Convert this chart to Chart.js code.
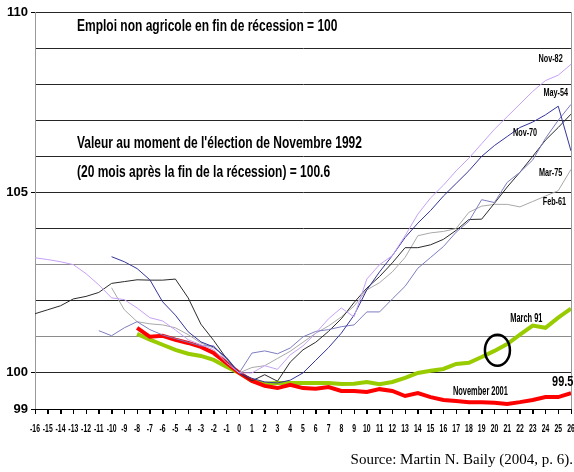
<!DOCTYPE html>
<html>
<head>
<meta charset="utf-8">
<script src="https://cdn.jsdelivr.net/npm/chart.js@4.4.1/dist/chart.umd.min.js"></script>
<style>
html,body{margin:0;padding:0;background:#fff;}
#wrap{width:574px;height:472px;}
</style>
</head>
<body>
<div id="wrap"><canvas id="c" width="574" height="472"></canvas></div>
<script>
// ---- data (months relative to end of recession, index = 100 at month 0) ----
const xTicks = [-16,-15,-14,-13,-12,-11,-10,-9,-8,-7,-6,-5,-4,-3,-2,-1,0,1,2,3,4,5,6,7,8,9,10,11,12,13,14,15,16,17,18,19,20,21,22,23,24,25,26];
const yTickLabels = [99, 100, 105, 110];

const nov82Start = -16;
const nov82 = [103.19,103.14,103.08,103.0,102.75,102.44,102.08,102.03,101.8,101.53,101.44,101.19,100.92,100.78,100.64,100.28,100.0,
  100.0,100.2,100.1,100.5,100.75,101.1,101.5,101.8,101.55,102.6,103.0,103.25,103.8,104.4,104.85,105.2,105.6,105.95,106.35,106.75,107.1,107.45,107.8,108.1,108.25,108.55];

const may54Start = -10;
const may54 = [103.22,103.08,102.89,102.58,101.97,101.6,101.14,100.86,100.72,100.42,100.0,
  99.85,99.75,99.72,99.8,100.0,100.35,100.7,101.1,101.6,102.3,102.8,103.25,103.75,104.15,104.5,104.9,105.25,105.6,106.0,106.3,106.55,106.8,106.95,107.15,107.39,106.15];

const nov70Start = -11;
const nov70 = [101.17,101.03,101.25,101.42,101.2,101.05,100.95,100.85,100.75,100.75,100.35,100.0,
  100.55,100.61,100.53,100.69,101.0,101.15,101.2,101.28,101.33,101.69,101.69,102.05,102.4,102.9,103.2,103.5,103.9,104.2,104.8,104.72,105.28,105.56,105.9,106.5,107.0,107.44];

const mar75Start = -16;
const mar75 = [101.64,101.75,101.86,102.05,102.12,102.23,102.48,102.53,102.58,102.57,102.57,102.6,102.08,101.35,100.9,100.4,100.0,
  99.78,99.95,99.77,100.3,100.64,100.85,101.15,101.5,101.95,102.35,102.67,103.05,103.47,103.47,103.55,103.7,103.95,104.25,104.26,104.7,105.15,105.56,106.0,106.45,106.8,107.17];

const feb61Start = -10;
const feb61 = [102.36,101.75,101.42,101.36,101.33,101.25,101.06,100.83,100.69,100.44,100.0,
  100.15,100.2,100.4,100.6,100.85,101.1,101.3,101.55,101.85,102.3,102.5,102.8,103.2,103.8,103.88,103.92,104.0,104.45,104.62,104.67,104.67,104.6,104.75,104.9,105.05,105.64];

const nov01Start = -8;
const nov01 = [101.25,101.0,101.03,100.92,100.83,100.72,100.55,100.28,100.0,
  99.78,99.64,99.58,99.67,99.58,99.56,99.61,99.5,99.5,99.47,99.55,99.5,99.36,99.44,99.33,99.25,99.22,99.19,99.19,99.17,99.14,99.19,99.25,99.33,99.33,99.44];

const mar91Start = -8;
const mar91 = [101.08,100.92,100.78,100.64,100.53,100.47,100.36,100.17,100.0,
  99.78,99.7,99.72,99.72,99.72,99.72,99.72,99.69,99.7,99.75,99.69,99.75,99.86,100.0,100.06,100.11,100.25,100.28,100.44,100.61,100.8,101.06,101.31,101.25,101.53,101.78];

const electionMonth = 20;
const electionValue = 100.6;

function pts(start, arr){ return arr.map((v,i)=>({x:start+i, y:v})); }

const SANS = "'Liberation Sans',Arial,sans-serif";

const thin = (label, start, arr, color) => ({label, data: pts(start, arr), borderColor: color, borderWidth: 1, pointRadius: 0, tension: 0, fill:false});

const datasets = [
  thin('Nov-82', nov82Start, nov82, '#c6a0f6'),
  thin('May-54', may54Start, may54, '#34349c'),
  thin('Nov-70', nov70Start, nov70, '#7c7cc0'),
  thin('Mar-75', mar75Start, mar75, '#2a2a2a'),
  thin('Feb-61', feb61Start, feb61, '#a8a8a8'),
  {label:'November 2001', data: pts(nov01Start, nov01), borderColor:'#ff0000', borderWidth:4, pointRadius:0, tension:0, fill:false},
  {label:'March 91', data: pts(mar91Start, mar91), borderColor:'#99cc00', borderWidth:4, pointRadius:0, tension:0, fill:false}
];

// draw horizontally condensed text (narrow font look)
function ctext(ctx, t, x, y, font, sx, align){
  ctx.save();
  ctx.font = font; ctx.textAlign = align || 'center'; ctx.textBaseline = 'middle';
  ctx.translate(x, y); ctx.scale(sx, 1);
  ctx.fillText(t, 0, 0);
  ctx.restore();
}

const annot = {
  id:'annot',
  afterDatasetsDraw(chart){
    const ctx = chart.ctx, xs = chart.scales.x, ys = chart.scales.y, a = chart.chartArea;
    ctx.save();
    // right frame
    ctx.strokeStyle = '#999'; ctx.lineWidth = 1;
    ctx.beginPath(); ctx.moveTo(a.right+0.5, a.top); ctx.lineTo(a.right+0.5, a.bottom); ctx.stroke();
    // x tick marks
    ctx.strokeStyle = '#000'; ctx.lineWidth = 1;
    ctx.beginPath();
    for (const v of xTicks){
      const px = Math.round(xs.getPixelForValue(v)) + 0.5;
      ctx.moveTo(px, a.bottom); ctx.lineTo(px, a.bottom + 5);
    }
    ctx.stroke();
    // election ellipse
    ctx.strokeStyle = '#000'; ctx.lineWidth = 2.5;
    ctx.beginPath();
    ctx.ellipse(xs.getPixelForValue(electionMonth)+3, ys.getPixelForValue(electionValue)-1, 12.5, 15.5, 0, 0, Math.PI*2);
    ctx.stroke();
    ctx.fillStyle = '#000';
    // titles
    const tf = "bold 16px " + SANS;
    ctext(ctx, 'Emploi non agricole en fin de récession = 100', 77, 27, tf, 0.75, 'left');
    ctext(ctx, "Valeur au moment de l'élection de Novembre 1992", 77, 144, tf, 0.75, 'left');
    ctext(ctx, '(20 mois après la fin de la récession) = 100.6', 77, 173, tf, 0.75, 'left');
    // series labels
    const lab = (t, mx, vy, f, sx) => ctext(ctx, t, xs.getPixelForValue(mx), ys.getPixelForValue(vy), f, sx);
    const sf = "bold 11px " + SANS;
    lab('Nov-82', 24.4, 108.7, sf, 0.66);
    lab('May-54', 24.8, 107.75, sf, 0.66);
    lab('Nov-70', 22.4, 106.65, sf, 0.66);
    lab('Mar-75', 24.4, 105.55, sf, 0.66);
    lab('Feb-61', 24.7, 104.75, sf, 0.66);
    lab('March 91', 22.5, 101.5, "bold 12px " + SANS, 0.62);
    lab('November 2001', 18.9, 99.47, "bold 12px " + SANS, 0.62);
    lab('99.5', 25.35, 99.75, "bold 14px " + SANS, 0.78);
    // x tick labels
    for (const v of xTicks){
      ctext(ctx, String(v), xs.getPixelForValue(v), a.bottom + 20, "bold 11px " + SANS, 0.62);
    }
    // source
    ctx.font = "15px 'Liberation Serif','Times New Roman',serif";
    ctx.textAlign = 'right'; ctx.textBaseline = 'middle';
    ctx.fillText('Source: Martin N. Baily (2004, p. 6).', 573, 460);
    ctx.restore();
  }
};

new Chart(document.getElementById('c'), {
  type:'line',
  data:{datasets},
  plugins:[annot],
  options:{
    responsive:false, animation:false, devicePixelRatio:1,
    layout:{padding:{top:12, right:3, left:0, bottom:0}},
    plugins:{legend:{display:false}, tooltip:{enabled:false}},
    scales:{
      x:{
        type:'linear', min:xTicks[0], max:xTicks[xTicks.length-1],
        afterBuildTicks(s){ s.ticks = xTicks.map(v=>({value:v})); },
        afterFit(s){ s.height = 63; },
        ticks:{display:false},
        grid:{drawOnChartArea:false, drawTicks:true, tickLength:5, color:'#000'},
        border:{color:'#000', width:1}
      },
      y:{
        type:'linear', min:99, max:110,
        afterBuildTicks(s){ const t=[]; for(let v=99; v<=110; v++) t.push({value:v}); s.ticks=t; },
        afterFit(s){ s.width = 35; },
        ticks:{color:'#000', padding:3, font:{family:SANS, size:13, weight:'bold'},
          callback:(v)=> yTickLabels.includes(v) ? String(v) : ''},
        grid:{
          color:(c)=> (c.tick && (c.tick.value===101 || c.tick.value===103)) ? '#8c8c8c' : '#262626',
          tickColor:(c)=> (c.tick && yTickLabels.includes(c.tick.value)) ? '#000' : 'rgba(0,0,0,0)',
          tickLength:4, lineWidth:1
        },
        border:{color:'#999', width:1}
      }
    }
  }
});
</script>
</body>
</html>
